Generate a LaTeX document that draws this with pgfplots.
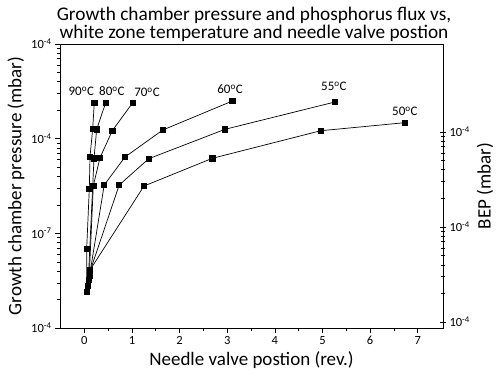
\documentclass[border=0pt]{standalone}
\usepackage{fontspec}
\setmainfont{Carlito}
\usepackage{pgfplots}
\pgfplotsset{compat=1.18}
\newcommand{\dg}{\textsuperscript{o}C}
\newcommand{\tl}{10\textsuperscript{-4}}
\tikzset{ser/.style={black, solid, line width=0.7pt, mark=square*, mark size=2.6pt, mark options={solid, fill=black}}}
\begin{document}
\begin{tikzpicture}[x=1pt,y=1pt]
\path[use as bounding box] (0,0) rectangle (500,385);
\node[align=center, font=\fontsize{19.3}{18.5}\selectfont, inner sep=0pt] at (254,360.5) {Growth chamber pressure and phosphorus flux vs,\\white zone temperature and needle valve postion};
\begin{axis}[
  at={(60pt,57pt)}, anchor=south west,
  scale only axis, width=383pt, height=284pt,
  xmin=-0.51, xmax=7.53,
  ymode=log, ymin=1e-10, ymax=1e-7,
  xtick={0,1,2,3,4,5,6,7}, minor x tick num=1,
  ytick={1e-10,1e-9,1e-8,1e-7},
  yticklabels={\tl,10\textsuperscript{-7},\tl,\tl},
  xtick pos=bottom, ytick pos=left,
  tick align=outside,
  major tick length=5pt, minor tick length=3pt,
  axis line style={line width=1pt},
  every tick/.style={black, line width=0.6pt},
  /pgf/number format/assume math mode=true,
  ticklabel style={font=\fontsize{12.5}{13}\selectfont},
  xlabel={Needle valve postion (rev.)},
  ylabel={Growth chamber pressure (mbar)},
  label style={font=\fontsize{19}{19}\selectfont},
  clip=false,
]
% 90 C
\addplot[ser] coordinates {(0.05,2.4e-10) (0.05,6.83e-10) (0.105,2.94e-9) (0.12,6.45e-9) (0.176,1.265e-8) (0.21,2.4e-8)};
% 80 C
\addplot[ser] coordinates {(0.078,2.78e-10) (0.204,6.2e-9) (0.26,1.256e-8) (0.449,2.4e-8)};
% 70 C
\addplot[ser] coordinates {(0.10,3.21e-10) (0.189,3.18e-9) (0.33,6.3e-9) (0.588,1.213e-8) (1.016,2.4e-8)};
% 60 C
\addplot[ser] coordinates {(0.109,3.54e-10) (0.418,3.24e-9) (0.854,6.4e-9) (1.646,1.234e-8) (3.11,2.5e-8)};
% 55 C
\addplot[ser] coordinates {(0.115,3.9e-10) (0.733,3.24e-9) (1.352,6.14e-9) (2.954,1.256e-8) (5.26,2.44e-8)};
% 50 C
\addplot[ser] coordinates {(0.12,4.1e-10) (1.253,3.16e-9) (2.687,6.2e-9) (4.963,1.213e-8) (6.73,1.476e-8)};
\begin{scope}[every node/.style={font=\fontsize{13}{14}\selectfont, inner sep=0pt}]
\node at (axis cs:-0.063,3.15e-8) {90\dg};
\node at (axis cs:0.58,3.15e-8) {80\dg};
\node at (axis cs:1.316,3.1e-8) {70\dg};
\node at (axis cs:3.06,3.3e-8) {60\dg};
\node at (axis cs:5.24,3.55e-8) {55\dg};
\node at (axis cs:6.73,1.95e-8) {50\dg};
\end{scope}
\end{axis}
\begin{axis}[
  at={(60pt,57pt)}, anchor=south west,
  scale only axis, width=383pt, height=284pt,
  xmin=-0.51, xmax=7.53,
  axis x line=none, axis y line*=right,
  ymode=log, ymin=8.65e-11, ymax=8.43e-8,
  ytick={1e-10,1e-9,1e-8},
  yticklabels={\tl,\tl,\tl},
  tick align=center,
  major tick length=6pt, minor tick length=3.5pt,
  axis line style={line width=1pt},
  every tick/.style={black, line width=0.6pt},
  ticklabel style={font=\fontsize{12.5}{13}\selectfont},
  ylabel={BEP (mbar)},
  label style={font=\fontsize{19}{19}\selectfont},
]
\end{axis}
\end{tikzpicture}
\end{document}
